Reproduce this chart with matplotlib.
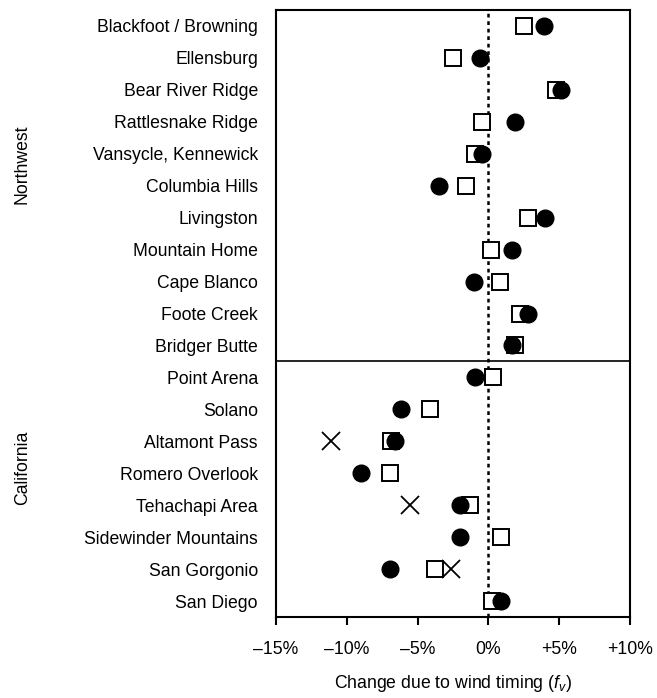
import matplotlib
matplotlib.use("Agg")
import matplotlib.pyplot as plt
import numpy as np

plt.rcParams['font.family'] = ['Liberation Sans', 'DejaVu Sans']
plt.rcParams['mathtext.fontset'] = 'custom'
plt.rcParams['mathtext.it'] = 'Liberation Sans:italic'
plt.rcParams['mathtext.rm'] = 'Liberation Sans'

sites = ["Blackfoot / Browning", "Ellensburg", "Bear River Ridge", "Rattlesnake Ridge",
         "Vansycle, Kennewick", "Columbia Hills", "Livingston", "Mountain Home",
         "Cape Blanco", "Foote Creek", "Bridger Butte", "Point Arena", "Solano",
         "Altamont Pass", "Romero Overlook", "Tehachapi Area", "Sidewinder Mountains",
         "San Gorgonio", "San Diego"]
circle_vals = [3.9, -0.56, 5.1, 1.85, -0.45, -3.5, 4.0, 1.7, -1.05, 2.8, 1.7, -0.95,
               -6.2, -6.6, -9.0, -2.0, -2.0, -6.95, 0.9]
square_vals = [2.5, -2.5, 4.75, -0.45, -0.95, -1.55, 2.8, 0.15, 0.8, 2.2, 1.9, 0.3,
               -4.15, -6.85, -6.95, -1.3, 0.9, -3.8, 0.25]
x_sites = ["Altamont Pass", "Tehachapi Area", "San Gorgonio"]
x_vals = [-11.1, -5.55, -2.65]
xticks = [-15, -10, -5, 0, 5, 10]
xticklabels = ["\u201315%", "\u201310%", "\u20135%", "0%", "+5%", "+10%"]
groups = ["Northwest", "California"]

FS = 12.7
fig = plt.figure(figsize=(6.57, 6.98), dpi=100)
ax = fig.add_axes([276/657, 1-617/698, (630-276)/657, (617-10)/698])

y = np.arange(len(sites))
ax.axvline(0, color='black', linestyle=(0, (1.5, 1.5)), linewidth=1.8, zorder=1)
ax.axhline(10.5, color='black', linewidth=1.2, zorder=1)

ax.plot(square_vals, y, linestyle='none', marker='s', markersize=11, markerfacecolor='white',
        markeredgecolor='black', markeredgewidth=1.4, zorder=3)
ax.plot(circle_vals, y, linestyle='none', marker='o', markersize=12, markerfacecolor='black',
        markeredgecolor='black', zorder=4)
xy = [sites.index(s) for s in x_sites]
ax.plot(x_vals, xy, linestyle='none', marker='x', markersize=13, markeredgecolor='black',
        markeredgewidth=1.3, zorder=5)

ax.set_xlim(-15, 10)
ax.set_ylim(len(sites) - 0.5, -0.5)
ax.set_yticks(y)
ax.set_yticklabels(sites, fontsize=FS)
ax.tick_params(axis='y', length=0, pad=13)
ax.set_xticks(xticks)
ax.set_xticklabels(xticklabels, fontsize=FS)
ax.tick_params(axis='x', direction='out', length=6, width=1.5, pad=11)
for s in ax.spines.values():
    s.set_linewidth(1.5)
ax.set_xlabel(r"Change due to wind timing ($\mathit{f}_{\mathit{v}}$)", fontsize=FS, labelpad=11)

fig.text(22.5/657, 1-164/698, groups[0], rotation=90, ha='center', va='center', fontsize=FS)
fig.text(22.5/657, 1-468/698, groups[1], rotation=90, ha='center', va='center', fontsize=FS)

fig.savefig("out.png", dpi=100)
